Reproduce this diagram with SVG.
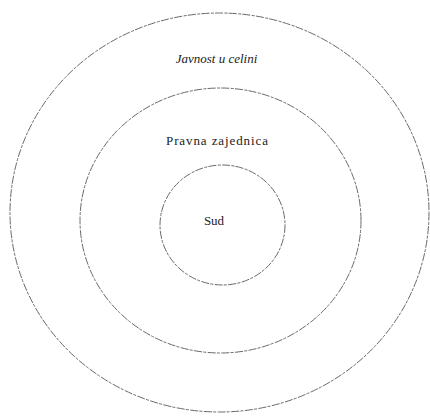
<svg xmlns="http://www.w3.org/2000/svg" width="430" height="416" viewBox="0 0 430 416">
<style>
.ring{fill:none;stroke:#6a6a6a;stroke-width:1;stroke-dasharray:8 1.5 3 1.2}
.lbl{fill:#222;text-anchor:middle}
</style>
<rect width="430" height="416" fill="#fff"/>
<g id="outer">
<ellipse class="ring" cx="219.5" cy="212.5" rx="209.5" ry="199.5"/>
<text class="lbl" x="216.5" y="63" font-family="Liberation Serif, serif" font-size="13" font-style="italic">Javnost u celini</text>
</g>
<g id="middle">
<ellipse class="ring" cx="220.5" cy="220.5" rx="140.5" ry="132.5"/>
<text class="lbl" x="217" y="145" font-family="Liberation Serif, serif" font-size="13" textLength="102">Pravna zajednica</text>
</g>
<g id="inner">
<ellipse class="ring" cx="222.5" cy="225" rx="62.5" ry="60"/>
<text class="lbl" x="214" y="225" font-family="Liberation Serif, serif" font-size="13">Sud</text>
</g>
<g id="connectors"/>
</svg>
